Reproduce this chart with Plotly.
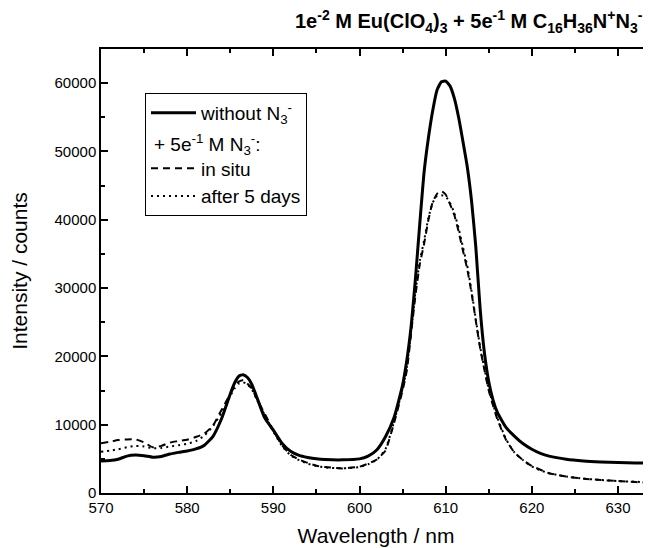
import plotly.graph_objects as go

# Wavelength grid (nm)
wavelength = [570, 571, 572, 573, 574, 575, 576, 577, 578, 579, 580, 581, 582, 583, 584,
              585, 585.5, 586, 586.5, 587, 587.5, 588, 589, 590, 591, 592, 593, 594, 595,
              596, 598, 600, 601, 602, 603, 604, 605, 605.5, 606, 606.5, 607, 607.5, 608,
              608.5, 609, 609.5, 610, 610.5, 611, 611.5, 612, 612.5, 613, 613.5, 614,
              614.5, 615, 615.5, 616, 617, 618, 619, 620, 621, 622, 624, 626, 628, 630, 632, 634]

# Intensity without N3-
without_n3 = [4700, 4750, 4950, 5400, 5550, 5450, 5250, 5350, 5700, 5950, 6150, 6450, 7000,
              8300, 10900, 14500, 16100, 17100, 17300, 16900, 15900, 14300, 11000, 9200,
              7300, 6100, 5500, 5200, 5000, 4900, 4850, 5000, 5400, 6300, 8200, 11000,
              15800, 19500, 24500, 31500, 39500, 47000, 52000, 56000, 59000, 60200, 60300,
              59600, 57800, 55000, 51500, 47800, 42800, 36000, 27000, 20500, 16300, 13600,
              11800, 9600, 8300, 7200, 6400, 5800, 5400, 4950, 4700, 4550, 4450, 4400, 4350]

# Intensity + 5e-1 M N3-, in situ
in_situ = [7300, 7500, 7750, 7850, 7850, 7400, 6700, 6900, 7400, 7600, 7800, 8200, 8700,
           9900, 12200, 14500, 15600, 16300, 16500, 16000, 15300, 14000, 11600, 9200,
           7000, 5600, 4900, 4400, 4000, 3800, 3600, 3850, 4300, 4900, 6200, 10200,
           15000, 18000, 23500, 29000, 33500, 36500, 40000, 42600, 43800, 44200, 43700,
           42300, 40700, 38300, 35500, 32800, 29300, 25200, 21200, 18000, 15000, 12800,
           10800, 7800, 5900, 4800, 3950, 3400, 2900, 2400, 2100, 1900, 1750, 1600, 1500]

# Intensity + 5e-1 M N3-, after 5 days
after_5_days = [6050, 6200, 6400, 6700, 6900, 6800, 6550, 6600, 6800, 7000, 7200, 7600, 8400,
                9800, 11800, 14200, 15300, 16000, 16200, 15900, 15200, 13900, 11400, 9000,
                6900, 5500, 4800, 4300, 3950, 3750, 3600, 3800, 4200, 4850, 6400, 10400,
                15300, 18500, 23800, 29500, 34000, 37000, 40300, 42500, 43500, 43600, 43400,
                42500, 41000, 38800, 36000, 33300, 29600, 25400, 21400, 18200, 15200, 13000,
                11000, 7900, 5900, 4800, 3900, 3300, 2900, 2400, 2100, 1900, 1750, 1650, 1550]

x_ticks = [570, 580, 590, 600, 610, 620, 630]
y_ticks = [0, 10000, 20000, 30000, 40000, 50000, 60000]

FONT = "Liberation Sans, Arial, sans-serif"
SUB_LABEL = "+ 5e<sup>-1</sup> M N<sub>3</sub><sup>-</sup>:"

fig = go.Figure()
fig.add_trace(go.Scatter(x=wavelength, y=without_n3, mode="lines",
                         name="without N<sub>3</sub><sup>-</sup>",
                         line=dict(color="black", width=3, shape="spline", smoothing=0.5)))
fig.add_trace(go.Scatter(x=[None], y=[None], mode="lines",
                         name="&nbsp;<sub>&nbsp;</sub><sup>&nbsp;</sup>",
                         line=dict(color="rgba(0,0,0,0)", width=0)))
fig.add_trace(go.Scatter(x=wavelength, y=in_situ, mode="lines", name="in situ",
                         line=dict(color="black", width=2, dash="7px,5px",
                                   shape="spline", smoothing=0.5)))
fig.add_trace(go.Scatter(x=wavelength, y=after_5_days, mode="lines", name="after 5 days",
                         line=dict(color="black", width=2, dash="2px,4px",
                                   shape="spline", smoothing=0.5)))

axis_common = dict(showline=True, linecolor="black", linewidth=1.5, mirror="ticks",
                   ticks="inside", ticklen=7, tickwidth=1.5, tickcolor="black",
                   showgrid=False, zeroline=False, automargin=False,
                   tickfont=dict(family=FONT, size=15, color="black"))

fig.update_xaxes(range=[570, 633.83], tickvals=x_ticks,
                 minor=dict(ticks="inside", ticklen=4, tickwidth=1.5, dtick=5,
                            tick0=570, tickcolor="black"),
                 title=dict(text="Wavelength / nm", font=dict(family=FONT, size=21, color="black"),
                            standoff=14),
                 **axis_common)
fig.update_yaxes(range=[0, 65000], tickvals=y_ticks, tickformat="d",
                 minor=dict(ticks="inside", ticklen=4, tickwidth=1.5, dtick=5000,
                            tick0=0, tickcolor="black"),
                 title=dict(text="Intensity / counts", font=dict(family=FONT, size=21, color="black"),
                            standoff=24),
                 **axis_common)

fig.update_layout(
    width=651, height=548,
    margin=dict(l=93, r=8, t=41, b=63),
    paper_bgcolor="white", plot_bgcolor="white",
    font=dict(family=FONT, size=15, color="black"),
    showlegend=True,
    legend=dict(x=0.08, y=0.901, xanchor="left", yanchor="top",
                bordercolor="black", borderwidth=1, bgcolor="white",
                font=dict(family=FONT, size=19, color="black"),
                tracegroupgap=0, itemwidth=45),
    annotations=[
        dict(text="<b>1e<sup>-2</sup> M Eu(ClO<sub>4</sub>)<sub>3</sub> + 5e<sup>-1</sup> M "
                  "C<sub>16</sub>H<sub>36</sub>N<sup>+</sup>N<sub>3</sub><sup>-</sup></b>",
             xref="paper", yref="paper", x=1.0, y=1.0, xshift=-6, yshift=28,
             xanchor="right", yanchor="middle", showarrow=False,
             font=dict(family=FONT, size=20, color="black")),
        dict(text=SUB_LABEL, xref="paper", yref="paper", x=0.092, y=0.785,
             xanchor="left", yanchor="middle", showarrow=False,
             font=dict(family=FONT, size=19, color="black")),
    ],
)

fig.write_html("out.html")
